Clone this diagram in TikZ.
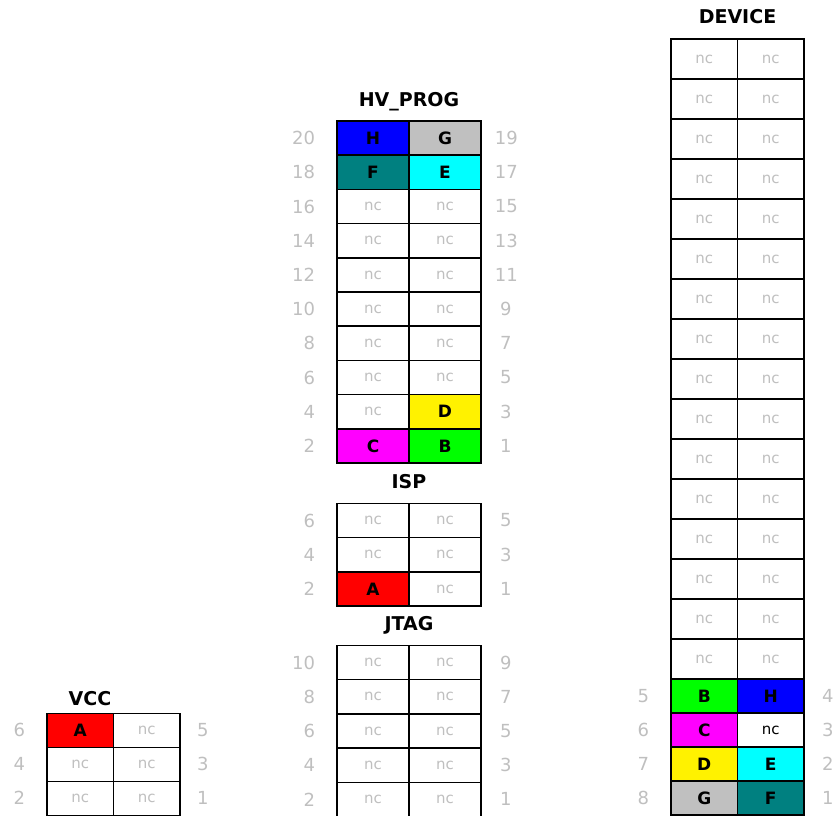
\documentclass[tikz,border=0pt]{standalone}
\usepackage{fontspec}
\setmainfont{DejaVu Sans}
\usetikzlibrary{positioning}
\definecolor{pincyan}{RGB}{0,255,255}
\definecolor{pinmagenta}{RGB}{255,0,255}
\definecolor{pinteal}{RGB}{0,128,128}
\definecolor{pingray}{RGB}{192,192,192}

\begin{document}
\begin{tikzpicture}[
    x=1pt, y=-1pt,
    cell/.style={
        rectangle,
        draw=black,
        line width=1.5pt,
        inner sep=0pt,
        font=\bfseries\fontsize{17}{17}\selectfont,
        text=black
    },
    nc/.style={
        cell,
        font=\fontsize{15}{15}\selectfont,
        text=black!25
    },
    wide/.style={minimum width=72pt, minimum height=34.2pt},
    narrow/.style={minimum width=66.5pt, minimum height=34pt},
    dev/.style={minimum width=66.5pt, minimum height=40pt},
    num/.style={
        inner sep=0pt,
        text=black!25,
        font=\fontsize{18}{18}\selectfont
    },
    rnum/.style={num, minimum width=22pt},
    title/.style={
        inner sep=0pt,
        anchor=base,
        font=\bfseries\fontsize{19}{19}\selectfont
    }
]
\useasboundingbox (0,0) rectangle (835,815);

% DEVICE
\node[title] (devtitle) at (737.5,23.5) {DEVICE};
\foreach \i in {0,...,15} {
    \node[nc, dev] (devl\i) at (704.25,{59+40*\i}) {nc};
    \node[nc, dev] (devr\i) at (770.75,{59+40*\i}) {nc};
}
\node[cell, narrow, fill=green] (dev5) at (704.25,696) {B};
\node[cell, narrow, fill=blue] (dev4) at (770.75,696) {H};
\node[cell, narrow, fill=pinmagenta] (dev6) at (704.25,730) {C};
\node[nc, narrow, text=black] (dev3) at (770.75,730) {nc};
\node[cell, narrow, fill=yellow] (dev7) at (704.25,764) {D};
\node[cell, narrow, fill=pincyan] (dev2) at (770.75,764) {E};
\node[cell, narrow, fill=pingray] (dev8) at (704.25,798) {G};
\node[cell, narrow, fill=pinteal] (dev1) at (770.75,798) {F};
\foreach \l/\r in {5/4, 6/3, 7/2, 8/1} {
    \node[num, left=21pt of dev\l] (devn\l) {\l};
    \node[rnum, right=12pt of dev\r] (devn\r) {\r};
}

% HV_PROG
\node[title] (hvtitle) at (409,106) {HV\_PROG};
\node[cell, wide, fill=blue] (hv20) at (373,138.1) {H};
\node[cell, wide, fill=pingray] (hv19) at (445,138.1) {G};
\node[cell, wide, fill=pinteal] (hv18) at (373,172.3) {F};
\node[cell, wide, fill=pincyan] (hv17) at (445,172.3) {E};
\foreach \l/\r/\y in {16/15/206.5, 14/13/240.7, 12/11/274.9, 10/9/309.1, 8/7/343.3, 6/5/377.5} {
    \node[nc, wide] (hv\l) at (373,\y) {nc};
    \node[nc, wide] (hv\r) at (445,\y) {nc};
}
\node[nc, wide] (hv4) at (373,411.7) {nc};
\node[cell, wide, fill=yellow] (hv3) at (445,411.7) {D};
\node[cell, wide, fill=pinmagenta] (hv2) at (373,445.9) {C};
\node[cell, wide, fill=green] (hv1) at (445,445.9) {B};
\foreach \l in {2,4,...,20} {
    \pgfmathtruncatemacro\r{\l-1}
    \node[num, left=21pt of hv\l] (hvn\l) {\l};
    \node[rnum, right=13pt of hv\r] (hvn\r) {\r};
}

% ISP
\node[title] (isptitle) at (409,488) {ISP};
\node[nc, wide] (isp6) at (373,520.5) {nc};
\node[nc, wide] (isp5) at (445,520.5) {nc};
\node[nc, wide] (isp4) at (373,554.7) {nc};
\node[nc, wide] (isp3) at (445,554.7) {nc};
\node[cell, wide, fill=red] (isp2) at (373,588.9) {A};
\node[nc, wide] (isp1) at (445,588.9) {nc};
\foreach \l in {2,4,6} {
    \pgfmathtruncatemacro\r{\l-1}
    \node[num, left=21pt of isp\l] (ispn\l) {\l};
    \node[rnum, right=13pt of isp\r] (ispn\r) {\r};
}

% JTAG
\node[title] (jtagtitle) at (409,630) {JTAG};
\foreach \l/\y in {10/662.6, 8/696.8, 6/731, 4/765.2, 2/799.4} {
    \pgfmathtruncatemacro\r{\l-1}
    \node[nc, wide] (jtag\l) at (373,\y) {nc};
    \node[nc, wide] (jtag\r) at (445,\y) {nc};
    \node[num, left=21pt of jtag\l] (jtagn\l) {\l};
    \node[rnum, right=13pt of jtag\r] (jtagn\r) {\r};
}

% VCC
\node[title] (vcctitle) at (90,705) {VCC};
\node[cell, narrow, fill=red] (vcc6) at (80.25,730.3) {A};
\node[nc, narrow] (vcc5) at (146.75,730.3) {nc};
\node[nc, narrow] (vcc4) at (80.25,764.3) {nc};
\node[nc, narrow] (vcc3) at (146.75,764.3) {nc};
\node[nc, narrow] (vcc2) at (80.25,798.3) {nc};
\node[nc, narrow] (vcc1) at (146.75,798.3) {nc};
\foreach \l in {2,4,6} {
    \pgfmathtruncatemacro\r{\l-1}
    \node[num, left=21pt of vcc\l] (vccn\l) {\l};
    \node[rnum, right=11pt of vcc\r] (vccn\r) {\r};
}

\end{tikzpicture}
\end{document}
